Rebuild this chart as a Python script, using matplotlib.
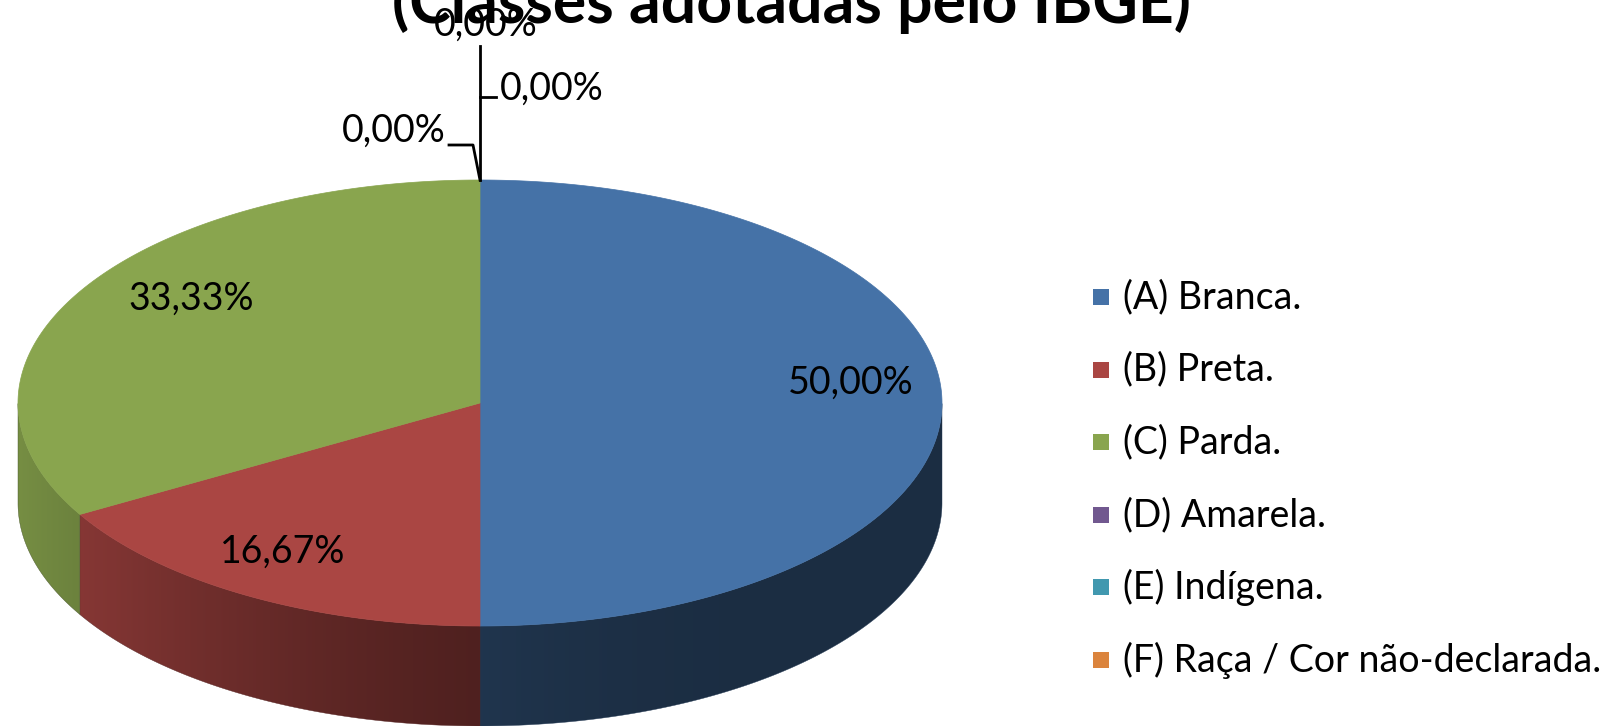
import numpy as np
import matplotlib.pyplot as plt
from matplotlib.patches import Polygon, Rectangle
from matplotlib.colors import to_rgb

# data
categories = ["(A) Branca.", "(B) Preta.", "(C) Parda.", "(D) Amarela.",
              "(E) Indígena.", "(F) Raça / Cor não-declarada."]
shares = [50.00, 16.67, 33.33, 0.00, 0.00, 0.00]
colors = ["#4572A7", "#AA4643", "#89A54E", "#71588F", "#4198AF", "#DB843D"]
title = "(Classes adotadas pelo IBGE)"

W, H = 1601, 726
plt.rcParams['font.family'] = ['Lato', 'DejaVu Sans']

fig = plt.figure(figsize=(W / 100, H / 100), dpi=100)
ax = fig.add_axes([0, 0, 1, 1])
ax.set_xlim(0, W)
ax.set_ylim(H, 0)
ax.axis('off')

# pie geometry (pixels)
cx, cy, a, b, depth = 480, 403, 462, 223, 100


def ell(t):
    return cx + a * np.cos(t), cy - b * np.sin(t)


def shade_factor(xn):
    # darker towards the right, like the excel 3d shading
    return 0.40 + 0.46 * np.clip((0.6 - xn) / 1.6, 0, 1) ** 2


# angles: start at 12 o'clock, going clockwise
total = sum(shares)
bounds = [np.pi / 2]
for v in shares:
    bounds.append(bounds[-1] - 2 * np.pi * v / total)

# side walls (front half only)
for i, v in enumerate(shares):
    if v <= 0:
        continue
    ts = np.linspace(bounds[i + 1], bounds[i], 600)
    tm = np.mod(ts, 2 * np.pi)
    front = ts[(tm >= np.pi) & (tm <= 2 * np.pi)]
    if len(front) < 2:
        continue
    xs, ys = ell(front)
    pts = list(zip(xs, ys)) + list(zip(xs[::-1], ys[::-1] + depth))
    poly = Polygon(pts, closed=True, facecolor='none', edgecolor='none')
    ax.add_patch(poly)
    x0, x1 = xs.min(), xs.max()
    y0, y1 = ys.min(), ys.max() + depth
    gx = np.linspace(x0, x1, 300)
    f = shade_factor((gx - cx) / a)
    img = np.array(to_rgb(colors[i]))[None, None, :] * f[None, :, None]
    img = np.repeat(img, 2, axis=0)
    im = ax.imshow(img, extent=(x0, x1, y1, y0), aspect='auto', interpolation='bilinear', zorder=1)
    im.set_clip_path(poly)
    ax.add_patch(Polygon(pts, closed=True, facecolor='none',
                         edgecolor=tuple(np.array(to_rgb(colors[i])) * 0.5), lw=0.3, zorder=1))

# top faces
for i, v in enumerate(shares):
    if v <= 0:
        continue
    ts = np.linspace(bounds[i], bounds[i + 1], 300)
    xs, ys = ell(ts)
    pts = [(cx, cy)] + list(zip(xs, ys))
    ax.add_patch(Polygon(pts, closed=True, facecolor=colors[i], edgecolor=colors[i], lw=0.5, zorder=2))

ax.set_xlim(0, W)
ax.set_ylim(H, 0)

fs = 27
fmt = lambda v: f"{v:.2f}%".replace('.', ',')

# data labels on the slices
label_pos = [(851, 383), (283, 552), (191, 299)]
for (lx, ly), v in zip(label_pos, shares[:3]):
    ax.text(lx, ly, fmt(v), fontsize=fs, ha='center', va='center', color='black', zorder=5)

# zero slices: leader lines from the top of the pie
tx, ty = ell(np.pi / 2)
ax.plot([tx, tx], [ty, 46], color='black', lw=2, zorder=4)
ax.plot([tx, tx + 16], [97, 97], color='black', lw=2, zorder=4)
ax.plot([tx, tx - 7, tx - 31], [ty, 145, 145], color='black', lw=2, zorder=4)
ax.text(486, 25, fmt(shares[3]), fontsize=fs, ha='center', va='center', zorder=5)
ax.text(500, 89, fmt(shares[4]), fontsize=fs, ha='left', va='center', zorder=5)
ax.text(446, 131, fmt(shares[5]), fontsize=fs, ha='right', va='center', zorder=5)

ax.text(791, 23, title, fontsize=45, fontweight='bold', ha='center', va='baseline', zorder=5)

# legend
for k, (name, col) in enumerate(zip(categories, colors)):
    y = 297 + 72.6 * k
    ax.add_patch(Rectangle((1093, y - 8), 16, 16, facecolor=col, edgecolor='none'))
    ax.text(1123, y, name, fontsize=fs, ha='left', va='center')

fig.savefig("out.png", dpi=100)
